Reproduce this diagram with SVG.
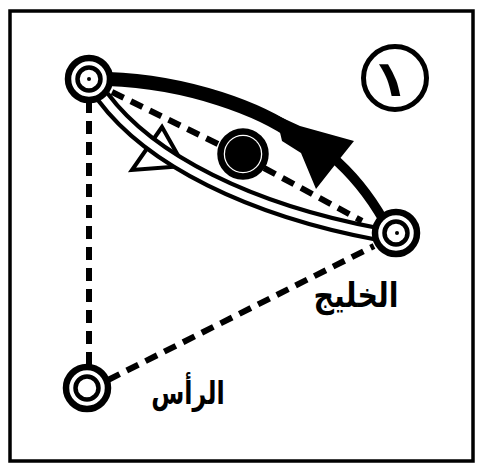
<svg xmlns="http://www.w3.org/2000/svg" width="484" height="471" viewBox="0 0 484 471">
<style>
.dash{fill:none;stroke:#000;stroke-width:6;stroke-dasharray:13 8;stroke-linecap:butt}
.ring{fill:#fff;stroke:#000;stroke-width:6.5}
.inner{fill:#fff;stroke:#000;stroke-width:4.5}
.lbl{font-family:"DejaVu Sans",sans-serif;font-weight:bold;fill:#000;text-anchor:middle}
</style>
<rect x="0" y="0" width="484" height="471" fill="#fff"/>
<rect x="10" y="11" width="463" height="450" fill="none" stroke="#000" stroke-width="3.5"/>
<g id="connectors">
  <line class="dash" x1="89" y1="100" x2="89" y2="368"/>
  <line class="dash" x1="108" y1="380" x2="374" y2="246"/>
  <line class="dash" x1="112" y1="92" x2="220" y2="145"/>
  <line class="dash" x1="264" y1="168" x2="362" y2="221"/>
  <polygon points="162,127 132,170 184,166" fill="#fff" stroke="#000" stroke-width="4" stroke-linejoin="miter"/>
  <path d="M103,97 C150,160 250,210 378,234" fill="none" stroke="#000" stroke-width="16"/>
  <path d="M103,97 C150,160 250,210 378,234" fill="none" stroke="#fff" stroke-width="7.5"/>
  <path d="M108,79 C190,82 262,110 296,135" fill="none" stroke="#000" stroke-width="14"/>
  <path d="M330,155 Q362,182 384,221" fill="none" stroke="#000" stroke-width="9.5"/>
  <polygon points="276,115 300,126 354,141 338,161 316,189 301,153 282,141" fill="#000"/>
</g>
<g id="nodeA">
  <circle class="ring" cx="89" cy="79" r="21"/>
  <circle class="inner" cx="89" cy="79" r="11.5"/>
  <circle cx="89" cy="79" r="2" fill="#000"/>
</g>
<g id="nodeB">
  <circle class="ring" cx="396" cy="233" r="21"/>
  <circle class="inner" cx="396" cy="233" r="11.5"/>
  <circle cx="397" cy="233" r="2" fill="#000"/>
</g>
<g id="nodeC">
  <circle class="ring" cx="87" cy="388" r="21"/>
  <circle class="inner" cx="87" cy="388" r="11.5"/>
</g>
<g id="nodeMid">
  <circle class="ring" cx="243" cy="154" r="22.5" stroke-width="5.5"/>
  <circle cx="243" cy="154" r="18" fill="#000"/>
</g>
<g id="badge">
  <circle cx="395" cy="78" r="31.5" fill="#fff" stroke="#000" stroke-width="5"/>
  <text class="lbl" font-size="50" transform="translate(394,96) skewX(12)">١</text>
</g>
<g id="labels">
  <text class="lbl" font-size="34" transform="translate(356,307) scale(0.84,1)">الخليج</text>
  <text class="lbl" font-size="32" transform="translate(188,404) scale(0.75,1)">الرأس</text>
</g>
</svg>
